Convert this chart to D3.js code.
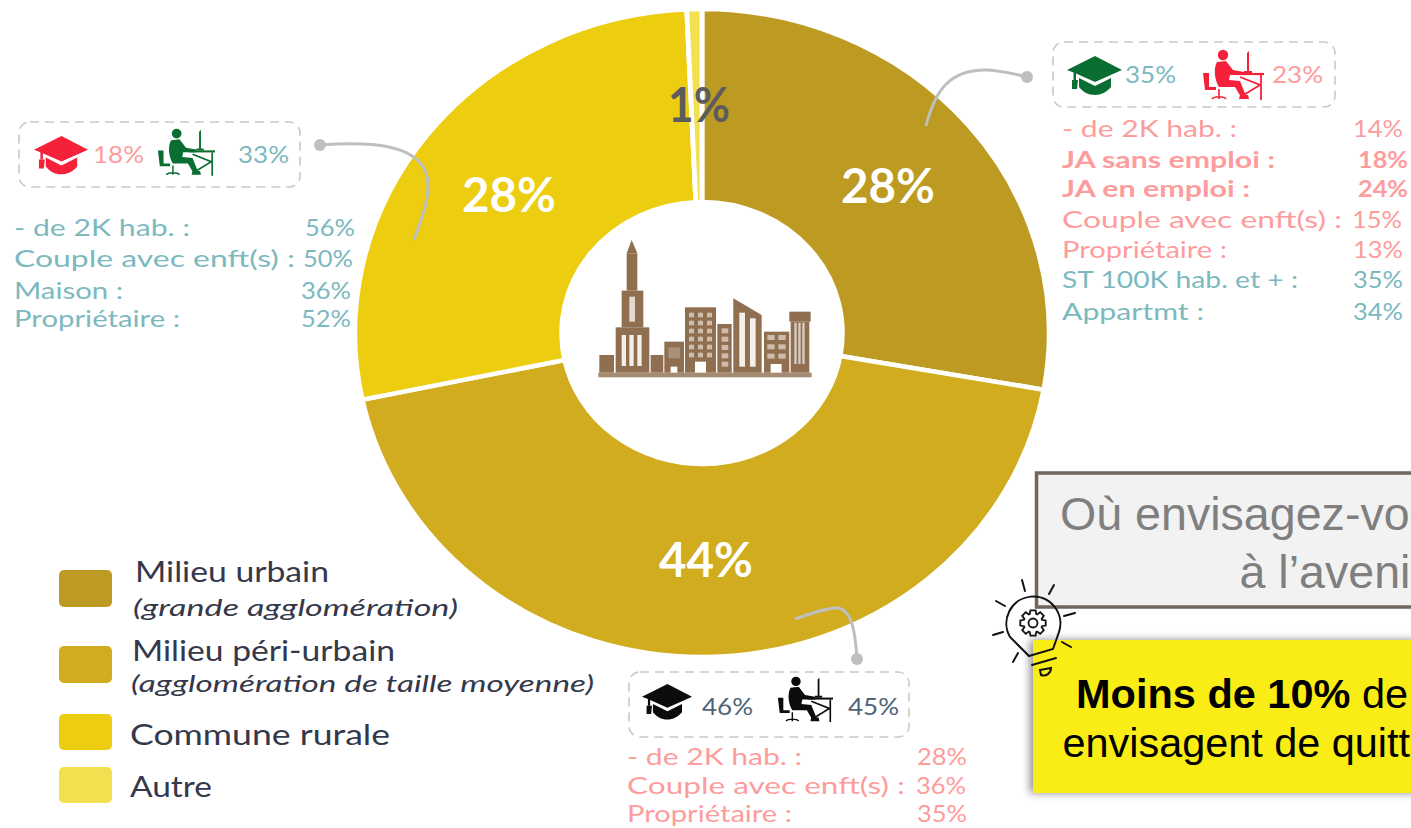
<!DOCTYPE html>
<html><head><meta charset="utf-8">
<script src="https://cdn.jsdelivr.net/npm/d3@7"></script>
<style>
html,body{margin:0;padding:0;background:#fff;overflow:hidden}
svg{display:block}
text{font-family:Lato,"Open Sans",sans-serif}
</style></head><body>
<svg id="c" width="1411" height="828"></svg>
<script>
const categories=["Milieu urbain","Milieu péri-urbain","Commune rurale","Autre"];
const shares=[27.8,43.9,27.6,0.7];
const shareLabels=["28%","44%","28%","1%"];
const sliceColors=["#bd9a22","#d0ac1e","#eccd10","#f2e04f"];
const legendNotes=["(grande agglomération)","(agglomération de taille moyenne)","",""];

const urbanRows=["- de 2K hab. :","JA sans emploi :","JA en emploi :","Couple avec enft(s) :","Propriétaire :","ST 100K hab. et + :","Appartmt :"];
const urbanVals=["14%","18%","24%","15%","13%","35%","34%"];
const ruralRows=["- de 2K hab. :","Couple avec enft(s) :","Maison :","Propriétaire :"];
const ruralVals=["56%","50%","36%","52%"];
const periRows=["- de 2K hab. :","Couple avec enft(s) :","Propriétaire :"];
const periVals=["28%","36%","35%"];

const PINK="#fd9c9c",TEAL="#7cb9bf",GREEN="#0a6e32",RED="#f5203a",INK="#34384a";
const svg=d3.select("#c");
const defs=svg.append("defs");
const sh=defs.append("filter").attr("id","sh").attr("x","-10%").attr("y","-15%").attr("width","120%").attr("height","130%");
sh.append("feDropShadow").attr("dx",-3).attr("dy",0).attr("stdDeviation",4).attr("flood-color","#000").attr("flood-opacity",.45);

/* stretch a text horizontally to the width it has in the picture */
const fit=(s,w)=>s.attr("textLength",w).attr("lengthAdjust","spacingAndGlyphs");

/* ---------- donut ---------- */
const cx=702,cy=333,ry=324,rIn=131,sx=345/322;
const pie=d3.pie().sort(null).value(d=>d);
const arc=d3.arc().innerRadius(rIn).outerRadius(ry);
const donut=svg.append("g").attr("transform",`translate(${cx},${cy}) scale(${sx},1)`);
donut.selectAll("path").data(pie(shares)).join("path")
  .attr("d",arc).attr("fill",(d,i)=>sliceColors[i])
  .attr("stroke","#fff").attr("stroke-width",4.5);

/* ---------- city icon ---------- */
const city=svg.append("g").attr("transform","translate(580,220) scale(.3333)");
const B="#8f6f50";
const R=(x0,y0,x1,y1,f=B)=>city.append("rect").attr("x",x0).attr("y",y0).attr("width",x1-x0).attr("height",y1-y0).attr("fill",f);
R(55,458,695,472,"#a58b72");R(58,405,102,458);R(107,322,208,458);
[125,148,172].forEach(x=>R(x,345,x+13,438,"#f4efe9"));
R(125,212,190,322);R(148,230,165,305,"#e4d9ce");R(140,100,172,212);
city.append("path").attr("d","M155,60L140,100H172Z").attr("fill",B);
R(212,405,250,458);R(253,365,312,458);R(265,382,300,415,"#a8917a");R(272,440,292,458,"#fff");
R(315,262,408,458);
d3.range(6).forEach(r=>d3.range(3).forEach(c=>R(327+c*27,278+r*24,342+c*27,292+r*24,"#cdbcab")));
R(345,425,378,458,"#fff");
R(412,312,455,458);d3.range(5).forEach(r=>R(425,325+r*25,445,340+r*25,"#cdbcab"));
city.append("path").attr("d","M460,235L545,285V458H460Z").attr("fill",B);
R(478,278,495,440,"#f4efe9");R(510,295,527,440,"#f4efe9");
R(552,335,628,458);d3.range(3).forEach(r=>d3.range(2).forEach(c=>R(562+c*33,345+r*28,584+c*33,360+r*28,"#cdbcab")));
R(572,432,605,458,"#fff");
R(628,275,692,305);R(632,305,688,458);
[643,655,667].forEach(x=>R(x,308,x+7,432,"#d9ccc0"));

/* ---------- slice labels ---------- */
const pctPos=[[888,203],[706,577],[509,212]];
pctPos.forEach((p,i)=>fit(svg.append("text").attr("x",p[0]).attr("y",p[1]).attr("text-anchor","middle")
  .attr("fill","#fff").attr("font-size",47).attr("font-weight",700).text(shareLabels[i]),94));
fit(svg.append("text").attr("x",699).attr("y",122).attr("text-anchor","middle").attr("fill","#5d5c5c")
  .attr("font-size",47).attr("font-weight",700).text(shareLabels[3]),62);

/* ---------- connectors ---------- */
const conn=[["M926,126C935,90 950,70 985,70C1000,70 1015,74 1027,77",1027,77],
 ["M320,145C360,142 428,140 428,185C428,205 420,222 414,240",320,145],
 ["M795,619C815,612 830,607 838,608C850,610 855,625 857,659",857,659]];
conn.forEach(c=>{
  svg.append("path").attr("d",c[0]).attr("fill","none").attr("stroke","#bfbfbf").attr("stroke-width",3);
  svg.append("circle").attr("cx",c[1]).attr("cy",c[2]).attr("r",6).attr("fill","#bfbfbf");
});

/* ---------- icons ---------- */
function cap(x,y,w,col){
  const g=svg.append("g").attr("transform",`translate(${x},${y}) scale(${w/55})`).attr("fill",col);
  g.append("path").attr("d","M28,0L55,14L28,26L9,17.5V24H6.5V16.5L0,14Z");
  g.append("path").attr("d","M12,22L28,30L44,22V31C40,36 34,39 28,39C21,39 16,36 12,31Z");
  g.append("path").attr("d","M5,24H11L10,33H5Z");
}
function worker(x,y,w,col){
  const g=svg.append("g").attr("transform",`translate(${x},${y}) scale(${w/62})`);
  g.append("circle").attr("cx",21).attr("cy",6).attr("r",5.2).attr("fill",col);
  g.append("path").attr("fill",col).attr("d","M15,13L24,12L31,21L42,23V26L28,26L27,31L38,32L44,47L39,48L33,38L17,38C13,32 11,20 15,13Z");
  g.append("path").attr("fill",col).attr("d","M1,24H7V38H14V41H3Z");
  g.append("path").attr("fill","none").attr("stroke",col).attr("stroke-width",1.6).attr("d","M17,40V47M10,50C12,47 22,47 24,50M17,47V50");
  g.append("path").attr("fill","none").attr("stroke",col).attr("stroke-width",2.2).attr("d","M34,25H62");
  g.append("path").attr("fill","none").attr("stroke",col).attr("stroke-width",1.8).attr("d","M59,26V51M38,28L58,36L40,47");
  g.append("path").attr("fill",col).attr("d","M45,4L47,2V22H50V24H42V22H45Z");
  g.append("path").attr("fill",col).attr("d","M38,46H46L47,50H37Z");
}
const boxes=[
 {x:1053,y:42,w:282,h:65,cap:[1067,56,55,GREEN],wk:[1202,49,62,RED],a:["35%",1125,83,TEAL],b:["23%",1272,83,PINK]},
 {x:19,y:122,w:281,h:65,cap:[34,136,54,RED],wk:[157,128,58,GREEN],a:["18%",93,163,PINK],b:["33%",238,163,TEAL]},
 {x:629,y:672,w:280,h:65,cap:[642,684,50,"#0c0c0c"],wk:[777,676,56,"#0c0c0c"],a:["46%",702,715,"#4f6478"],b:["45%",848,715,"#4f6478"]}
];
boxes.forEach(b=>{
  svg.append("rect").attr("x",b.x).attr("y",b.y).attr("width",b.w).attr("height",b.h).attr("rx",11)
    .attr("fill","none").attr("stroke","#c9c9c9").attr("stroke-width",1.6).attr("stroke-dasharray","9 6");
  cap(...b.cap);worker(...b.wk);
  [b.a,b.b].forEach(t=>fit(svg.append("text").attr("x",t[1]).attr("y",t[2]).attr("fill",t[3]).attr("font-size",23).text(t[0]),51));
});

/* ---------- stat lists ---------- */
function list(rows,vals,x,ys,ends,widths,cols,bold=[]){
  rows.forEach((r,i)=>{
    const w=bold.includes(i)?700:400;
    fit(svg.append("text").attr("x",x).attr("y",ys[i]).attr("fill",cols[i]).attr("font-weight",w).attr("font-size",23.5).text(r),widths[i]);
    fit(svg.append("text").attr("x",ends[i]).attr("y",ys[i]).attr("text-anchor","end").attr("fill",cols[i]).attr("font-weight",w).attr("font-size",23.5).text(vals[i]),50);
  });
}
list(urbanRows,urbanVals,1062,[137,168,197,228,258,288,320],[1403,1408,1408,1402,1403,1403,1403],[175,213,188,280,165,236,142],[PINK,PINK,PINK,PINK,PINK,TEAL,TEAL],[1,2]);
list(ruralRows,ruralVals,14,[236,267,299,327],[355,353,351,351],[176,281,109,166],[TEAL,TEAL,TEAL,TEAL]);
list(periRows,periVals,627,[765,794,822],[967,966,967],[175,278,165],[PINK,PINK,PINK]);

/* ---------- legend ---------- */
const swY=[570,646,714,767],swH=[37,37,36,36];
const nameP=[[135,582],[132,661],[130,745],[130,797]],nameW=[194,263,260,82];
const noteP=[[133,616],[131,692]],noteW=[325,463];
categories.forEach((c,i)=>{
  svg.append("rect").attr("x",59).attr("y",swY[i]).attr("width",53).attr("height",swH[i]).attr("rx",5).attr("fill",sliceColors[i]);
  fit(svg.append("text").attr("x",nameP[i][0]).attr("y",nameP[i][1]).attr("fill",INK).attr("font-size",28).text(c),nameW[i]);
  if(legendNotes[i]) fit(svg.append("text").attr("x",noteP[i][0]).attr("y",noteP[i][1]).attr("fill",INK).attr("font-size",24).attr("font-style","italic").text(legendNotes[i]),noteW[i]);
});

/* ---------- callouts (the text runs to the page edge, as far as the picture shows it) ---------- */
const F='"Liberation Sans",Arial,sans-serif';
svg.append("rect").attr("x",1036.5).attr("y",473).attr("width",400).attr("height",134).attr("fill","#f2f2f2").attr("stroke","#6f665c").attr("stroke-width",3.5);
svg.append("text").attr("x",1060).attr("y",530).attr("fill","#7f7f7f").style("font-family",F).attr("font-size",46.6).text("Où envisagez-vo");
svg.append("text").attr("x",1239.5).attr("y",588).attr("fill","#7f7f7f").style("font-family",F).attr("font-size",46.6).text("à l’aveni");
svg.append("rect").attr("x",1033).attr("y",640).attr("width",420).attr("height",153).attr("fill","#faed17").attr("filter","url(#sh)");
const t1=svg.append("text").attr("x",1076).attr("y",708).attr("fill","#000").style("font-family",F).attr("font-size",41.5);
t1.append("tspan").attr("font-weight",700).text("Moins de 10%");t1.append("tspan").text(" de");
svg.append("text").attr("x",1062.5).attr("y",757).attr("fill","#000").style("font-family",F).attr("font-size",41.4).text("envisagent de quitt");

/* ---------- light bulb ---------- */
const bulb=svg.append("g").attr("fill","none").attr("stroke","#111").attr("stroke-width",2).attr("stroke-linecap","round");
bulb.append("path").attr("d","M1029,656L1053,649L1059,632A27,27 0 1 0 1010,637Z");
bulb.append("path").attr("d","M1032,665L1056,658M1040,670L1051,668C1051,673 1046,677 1041,675Z");
[[1022,580,1025,591],[1054,585,1049,594],[996,601,1005,606],[1075,613,1064,616],[993,635,1003,632],[1071,647,1062,642],[1013,662,1018,653]]
 .forEach(l=>bulb.append("line").attr("x1",l[0]).attr("y1",l[1]).attr("x2",l[2]).attr("y2",l[3]));
const gear=svg.append("g").attr("transform","translate(1033,623)").attr("fill","none").attr("stroke","#111").attr("stroke-width",1.8);
gear.append("circle").attr("r",4.5);
gear.append("path").attr("d",d3.range(8).map(i=>{
  const a=i*Math.PI/4,s=.2;
  const p=(r,t)=>[(r*Math.cos(t)).toFixed(1),(r*Math.sin(t)).toFixed(1)].join(",");
  return (i?"L":"M")+p(9.5,a-s*1.7)+"L"+p(13,a-s)+"L"+p(13,a+s)+"L"+p(9.5,a+s*1.7);
}).join("")+"Z");
</script></body></html>
